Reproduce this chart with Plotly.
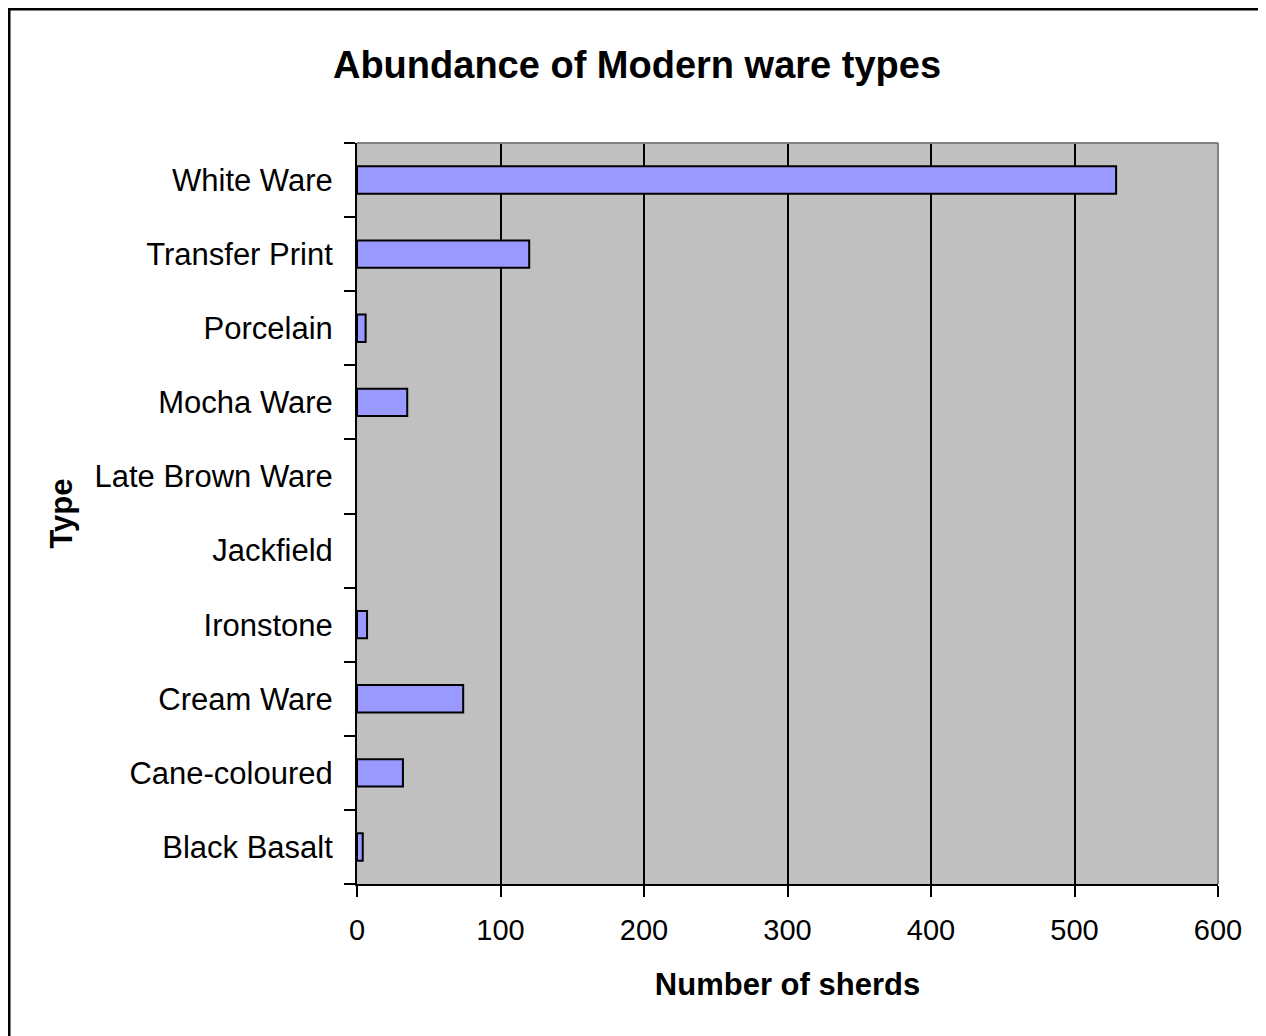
import plotly.graph_objects as go

categories = ["Black Basalt", "Cane-coloured", "Cream Ware", "Ironstone", "Jackfield",
              "Late Brown Ware", "Mocha Ware", "Porcelain", "Transfer Print", "White Ware"]
sherds = [4, 32, 74, 7, 0, 0, 35, 6, 120, 529]
x_ticks = [0, 100, 200, 300, 400, 500, 600]

# page has an 8px body margin, so work in figure pixels = page pixels - 8
OFF = 8
W, H = 1258, 1028
L, R, T, B = 357 - OFF, 1218 - OFF, 143 - OFF, 884 - OFF

fig = go.Figure(go.Bar(
    y=categories, x=sherds, orientation="h",
    marker=dict(color="#9999FF",
                line=dict(color="black", width=[2 if v > 0 else 0 for v in sherds])),
))

def px_to_paper_x(px):
    return (px - L) / (R - L)

def px_to_paper_y(py):
    return (B - py) / (B - T)

fig.update_layout(
    width=W, height=H,
    margin=dict(l=L, r=W - R, t=T, b=H - B, pad=0),
    paper_bgcolor="white",
    plot_bgcolor="#C0C0C0",
    bargap=0.63,
    showlegend=False,
    font=dict(family="Liberation Sans, Arial, sans-serif", color="black", size=30),
    title=dict(text="<b>Abundance of Modern ware types</b>", x=(637 - OFF) / W,
               xanchor="center", y=1 - (65 - OFF) / H, yanchor="middle",
               font=dict(size=38, color="black")),
    xaxis=dict(range=[0, 600], tickvals=x_ticks, ticks="outside", ticklen=11, tickwidth=2,
               tickcolor="black", showgrid=True, gridcolor="black", gridwidth=2,
               showline=True, linecolor="black", linewidth=2, zeroline=False,
               title=dict(text="<b>Number of sherds</b>", font=dict(size=31), standoff=29),
               tickfont=dict(size=29), ticklabelstandoff=8),
    yaxis=dict(categoryorder="array", categoryarray=categories, ticks="outside",
               tickson="boundaries", ticklen=11, tickwidth=2, tickcolor="black",
               showline=True, linecolor="black", linewidth=2, showgrid=False,
               title=dict(text="<b>Type</b>", font=dict(size=31), standoff=13),
               tickfont=dict(size=31), ticklabelstandoff=16),
    shapes=[
        dict(type="line", xref="paper", yref="paper", x0=0, x1=1, y0=1, y1=1,
             line=dict(color="#808080", width=2)),
        dict(type="line", xref="paper", yref="paper", x0=1, x1=1, y0=0, y1=1,
             line=dict(color="#808080", width=2)),
        dict(type="rect", xref="paper", yref="paper",
             x0=px_to_paper_x(1), x1=px_to_paper_x(1300),
             y0=px_to_paper_y(1100), y1=px_to_paper_y(1),
             line=dict(color="black", width=3), fillcolor="rgba(0,0,0,0)", layer="above"),
    ],
)

fig.write_html("out.html")
